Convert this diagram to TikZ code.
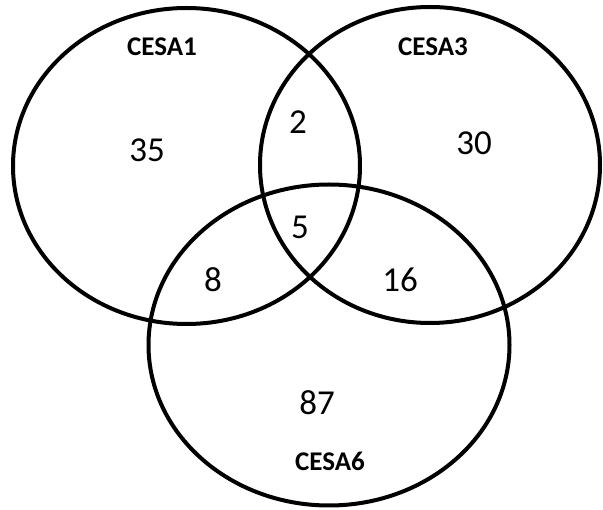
\documentclass[tikz,border=0pt]{standalone}
\usepackage{fontspec}
\setmainfont{Carlito}
\usetikzlibrary{shapes.geometric}

\begin{document}
\begin{tikzpicture}[
  x=1pt, y=-1pt,
  set/.style={draw, ellipse, line width=4pt, inner sep=0pt},
  num/.style={font=\fontsize{35}{40}\selectfont, inner sep=0pt},
  lab/.style={font=\fontsize{27}{30}\selectfont\bfseries, inner sep=0pt}
]
\useasboundingbox (0,0) rectangle (603,510);
% sets
\node[set, minimum width=347pt, minimum height=316pt] (cesa1) at (186.5,166) {};
\node[set, minimum width=340pt, minimum height=316pt] (cesa3) at (430,165) {};
\node[set, minimum width=361pt, minimum height=321pt] (cesa6) at (329,345) {};
% set names
\node[lab] (name1) at (162,47) {CESA1};
\node[lab] (name3) at (433,47) {CESA3};
\node[lab] (name6) at (330,461) {CESA6};
% counts
\node[num] (only1) at (147,150) {35};
\node[num] (only3) at (474,143) {30};
\node[num] (only6) at (317,403) {87};
\node[num] (n13) at (298,122) {2};
\node[num] (n16) at (213,280) {8};
\node[num] (n36) at (400,280) {16};
\node[num] (n136) at (300,227) {5};
\end{tikzpicture}
\end{document}
